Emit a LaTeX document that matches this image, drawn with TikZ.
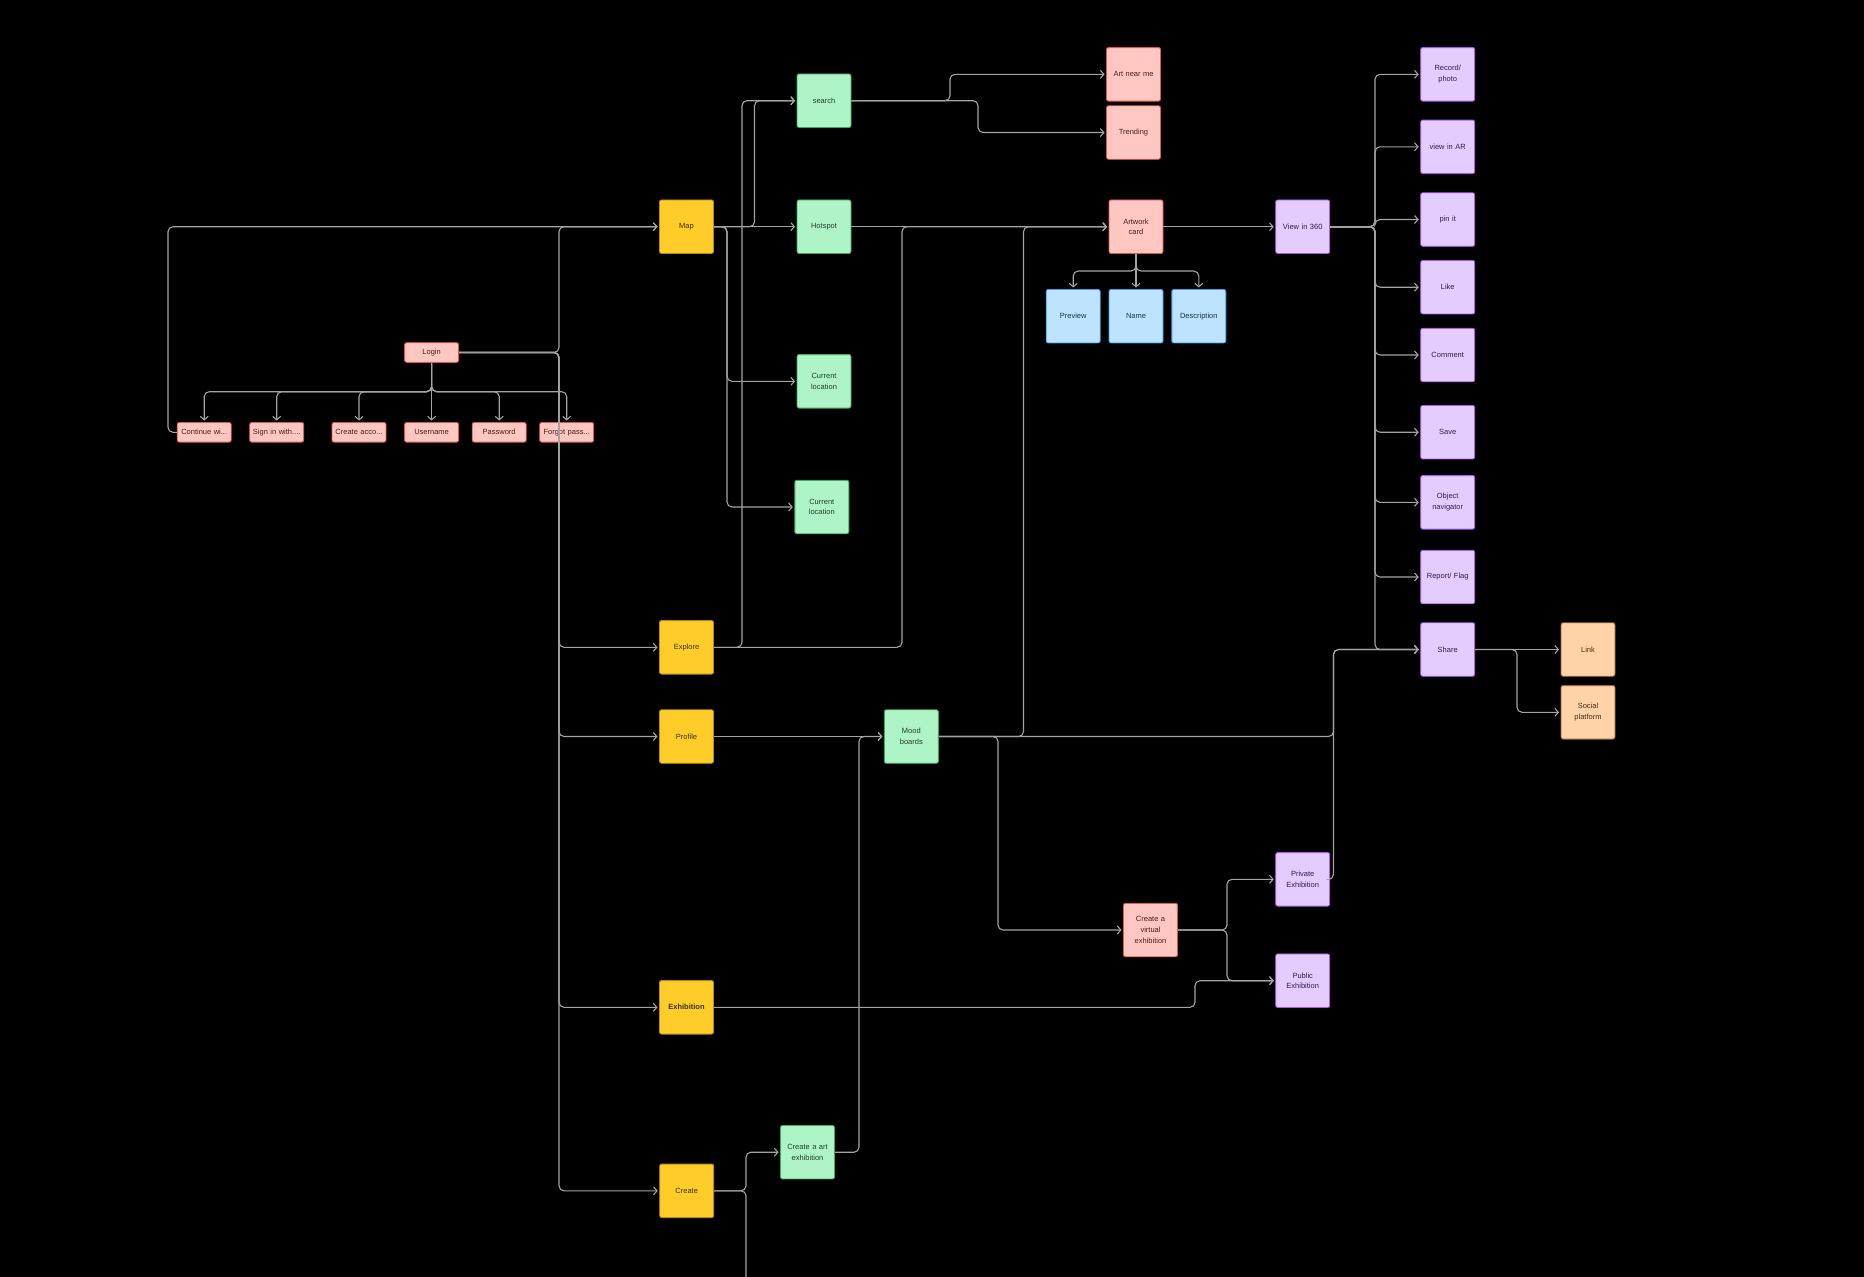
\documentclass[tikz,border=0pt]{standalone}
\usepackage{fontspec}
\setmainfont{Liberation Sans}
\usetikzlibrary{arrows.meta}
\definecolor{linec}{HTML}{A3A3A3}
\definecolor{yelF}{HTML}{FFCD29}\definecolor{yelD}{HTML}{B8890F}\definecolor{yelT}{HTML}{3B2E0A}
\definecolor{grnF}{HTML}{AFF4C6}\definecolor{grnD}{HTML}{3DA767}\definecolor{grnT}{HTML}{1D4029}
\definecolor{pnkF}{HTML}{FFC7C2}\definecolor{pnkD}{HTML}{E0584C}\definecolor{pnkT}{HTML}{4F1A15}
\definecolor{bluF}{HTML}{BDE3FF}\definecolor{bluD}{HTML}{3A9EE6}\definecolor{bluT}{HTML}{17324A}
\definecolor{purF}{HTML}{E4CCFF}\definecolor{purD}{HTML}{A45CF0}\definecolor{purT}{HTML}{35194F}
\definecolor{ornF}{HTML}{FFD3A8}\definecolor{ornD}{HTML}{9C6428}\definecolor{ornT}{HTML}{4A2C0C}
\begin{document}
\begin{tikzpicture}[x=1pt,y=-1pt,
  box/.style={rounded corners=2pt, line width=0.9pt, minimum width=54pt, minimum height=53.5pt,
    inner sep=1pt, align=center, text width=50pt, font=\fontsize{7.5}{10.7}\selectfont},
  sbox/.style={box, minimum height=19.6pt},
  yel/.style={box, fill=yelF, draw=yelD, text=yelT},
  grn/.style={box, fill=grnF, draw=grnD, text=grnT},
  pnk/.style={box, fill=pnkF, draw=pnkD, text=pnkT},
  spnk/.style={sbox, fill=pnkF, draw=pnkD, text=pnkT},
  blu/.style={box, fill=bluF, draw=bluD, text=bluT},
  pur/.style={box, fill=purF, draw=purD, text=purT},
  orn/.style={box, fill=ornF, draw=ornD, text=ornT},
  wire/.style={draw=linec, line width=1.1pt, rounded corners=5pt},
  conn/.style={wire, -{Straight Barb[length=3.5pt,width=8pt]}, shorten >=1.5pt}
]
\fill[black] (0,0) rectangle (1864,1277);
\useasboundingbox (0,0) rectangle (1864,1277);

% trunk coordinates
\coordinate (xA) at (168,0);
\coordinate (xL) at (559,0);
\coordinate (xM1) at (727,0);
\coordinate (xE1) at (742,0);
\coordinate (xC) at (746,0);
\coordinate (xM2) at (754.5,0);
\coordinate (xCA) at (859,0);
\coordinate (xE2) at (902,0);
\coordinate (xS1) at (950,0);
\coordinate (xS2) at (978,0);
\coordinate (xMB1) at (998,0);
\coordinate (xMB2) at (1023.5,0);
\coordinate (xX) at (1195,0);
\coordinate (xV) at (1227,0);
\coordinate (xSh) at (1333.5,0);
\coordinate (xP) at (1375,0);
\coordinate (xSo) at (1517,0);
\coordinate (yL) at (0,391.7);
\coordinate (yA) at (0,271);
\coordinate (bottom) at (746,1277);

% yellow
\node[yel] (map) at (686.5,226.7) {Map};
\node[yel] (explore) at (686.5,647.3) {Explore};
\node[yel] (profile) at (686.5,736.5) {Profile};
\node[yel, font=\fontsize{7.5}{10.7}\selectfont\bfseries] (exh) at (686.5,1007.3) {Exhibition};
\node[yel] (create) at (686.7,1190.8) {Create};
% green
\node[grn] (search) at (824,100.7) {search};
\node[grn] (hotspot) at (824,226.7) {Hotspot};
\node[grn] (cl1) at (824,381.3) {Current\\location};
\node[grn] (cl2) at (821.8,507) {Current\\location};
\node[grn] (mood) at (911.3,736.5) {Mood\\boards};
\node[grn] (cae) at (807.5,1152.2) {Create a art\\exhibition};
% pink
\node[pnk] (anm) at (1133.5,74.3) {Art near me};
\node[pnk] (trend) at (1133.5,132.5) {Trending};
\node[pnk] (art) at (1136,226.7) {Artwork\\card};
\node[pnk] (cve) at (1150.5,930) {Create a\\virtual\\exhibition};
\node[spnk] (login) at (431.6,352.5) {Login};
\node[spnk] (cont) at (204.2,432.3) {Continue wi...};
\node[spnk] (signin) at (276.7,432.3) {Sign in with....};
\node[spnk] (cacc) at (359,432.3) {Create acco...};
\node[spnk] (user) at (431.6,432.3) {Username};
\node[spnk] (pass) at (499.2,432.3) {Password};
\node[spnk] (forgot) at (566.7,432.3) {Forgot pass...};
% blue
\node[blu] (prev) at (1073.2,316.2) {Preview};
\node[blu] (name) at (1136,316.2) {Name};
\node[blu] (desc) at (1198.8,316.2) {Description};
% purple
\node[pur] (v360) at (1302.7,226.7) {View in 360};
\node[pur] (rec) at (1447.7,74.3) {Record/\\photo};
\node[pur] (ar) at (1447.7,146.8) {view in AR};
\node[pur] (pin) at (1447.7,219.5) {pin it};
\node[pur] (like) at (1447.7,287.2) {Like};
\node[pur] (comment) at (1447.7,355) {Comment};
\node[pur] (save) at (1447.7,432.2) {Save};
\node[pur] (obj) at (1447.7,502.3) {Object\\navigator};
\node[pur] (report) at (1447.7,577) {Report/ Flag};
\node[pur] (share) at (1447.7,649.5) {Share};
\node[pur] (priv) at (1302.7,879.3) {Private\\Exhibition};
\node[pur] (pub) at (1302.7,980.7) {Public\\Exhibition};
% orange
\node[orn] (link) at (1588,649.5) {Link};
\node[orn] (social) at (1588,712.3) {Social\\platform};

% login children
\foreach \t in {cont,signin,cacc,pass,forgot}
  \draw[conn] (login.south) -- (login.south |- yL) -| (\t.north);
\draw[conn] (login.south) -- (user.north);
\draw[conn] (cont.west) -- (cont.west -| xA) |- (map.west);
% login to main sections
\foreach \t in {map,explore,profile,exh,create}
  \draw[conn] (login.east) -- (login.east -| xL) |- (\t.west);
% map
\draw[conn] (map.east) -- (map.east -| xM2) |- (search.west);
\draw[conn] (map.east) -- (hotspot.west);
\draw[conn] (map.east) -- (map.east -| xM1) |- (cl1.west);
\draw[conn] (map.east) -- (map.east -| xM1) |- (cl2.west);
% explore
\draw[conn] (explore.east) -- (explore.east -| xE1) |- (search.west);
\draw[conn] (explore.east) -- (explore.east -| xE2) |- (art.west);
% search
\draw[conn] (search.east) -- (search.east -| xS1) |- (anm.west);
\draw[conn] (search.east) -- (search.east -| xS2) |- (trend.west);
% hotspot
\draw[conn] (hotspot.east) -- (art.west);
% artwork card
\draw[conn] (art.south) -- (art.south |- yA) -| (prev.north);
\draw[conn] (art.south) -- (name.north);
\draw[conn] (art.south) -- (art.south |- yA) -| (desc.north);
\draw[conn] (art.east) -- (v360.west);
% view in 360
\foreach \t in {rec,ar,pin,like,comment,save,obj,report,share}
  \draw[conn] (v360.east) -- (v360.east -| xP) |- (\t.west);
% share
\draw[conn] (share.east) -- (link.west);
\draw[conn] (share.east) -- (share.east -| xSo) |- (social.west);
% profile / mood boards
\draw[conn] (profile.east) -- (mood.west);
\draw[conn] (mood.east) -- (mood.east -| xMB2) |- (art.west);
\draw[conn] (mood.east) -- (mood.east -| xSh) |- (share.west);
\draw[conn] (mood.east) -- (mood.east -| xMB1) |- (cve.west);
% virtual exhibition
\draw[conn] (cve.east) -- (cve.east -| xV) |- (priv.west);
\draw[conn] (cve.east) -- (cve.east -| xV) |- (pub.west);
\draw[conn] (priv.east) -- (priv.east -| xSh) |- (share.west);
% exhibition
\draw[conn] (exh.east) -- (exh.east -| xX) |- (pub.west);
% create
\draw[conn] (create.east) -- (create.east -| xC) |- (cae.west);
\draw[wire] (create.east) -- (create.east -| xC) -- (bottom);
\draw[conn] (cae.east) -- (cae.east -| xCA) |- (mood.west);
\end{tikzpicture}
\end{document}
